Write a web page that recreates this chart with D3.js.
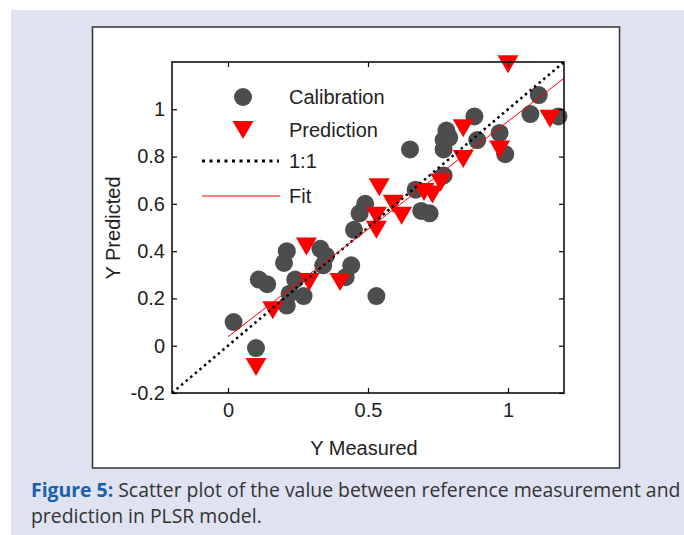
<!DOCTYPE html>
<html>
<head>
<meta charset="utf-8">
<script src="https://cdn.jsdelivr.net/npm/d3@7"></script>
<style>
  body { margin: 0; background: #fff; }
  svg { display: block; }
</style>
</head>
<body>
<script>
"use strict";

// calibration points (Y measured, Y predicted)
const calX = [0.02, 0.10, 0.11, 0.14, 0.20, 0.21, 0.24, 0.22, 0.27, 0.21,
              0.33, 0.35, 0.34, 0.44, 0.42, 0.45, 0.49, 0.47, 0.53, 0.65,
              0.67, 0.69, 0.72, 0.77, 0.77, 0.77, 0.78, 0.79, 0.88, 0.89,
              0.97, 0.99, 1.08, 1.11, 1.18]
const calY = [0.10, -0.01, 0.28, 0.26, 0.35, 0.40, 0.28, 0.22, 0.21, 0.17,
              0.41, 0.38, 0.34, 0.34, 0.29, 0.49, 0.60, 0.56, 0.21, 0.83,
              0.66, 0.57, 0.56, 0.72, 0.83, 0.87, 0.91, 0.88, 0.97, 0.87,
              0.90, 0.81, 0.98, 1.06, 0.97]

// prediction points
const predX = [0.10, 0.16, 0.28, 0.29, 0.40, 0.54, 0.53, 0.53, 0.59, 0.62,
               0.70, 0.73, 0.76, 0.84, 0.84, 0.97, 1.00, 1.15]
const predY = [-0.09, 0.15, 0.42, 0.27, 0.27, 0.67, 0.55, 0.49, 0.60, 0.55,
               0.65, 0.64, 0.69, 0.92, 0.79, 0.83, 1.19, 0.96]

// 1:1 line and fitted line
const oneX = [-0.2, 1.2]
const oneY = [-0.2, 1.2]
const fitX = [0, 1.2]
const fitY = [0.038, 1.131]

const xTicks = [0, 0.5, 1]
const xTickLabels = ["0", "0.5", "1"]
const yTicks = [-0.2, 0, 0.2, 0.4, 0.6, 0.8, 1]
const yTickLabels = ["-0.2", "0", "0.2", "0.4", "0.6", "0.8", "1"]

const legendLabels = ["Calibration", "Prediction", "1:1", "Fit"]

const W = 684, H = 535
const plot = { left: 172, right: 564, top: 62, bottom: 393 }
const font = "'Liberation Sans', Arial, sans-serif"

const svg = d3.select("body").append("svg")
    .attr("width", W)
    .attr("height", H)

// page background and figure box
svg.append("rect")
    .attr("x", 11).attr("y", 10)
    .attr("width", W - 11).attr("height", H - 10)
    .attr("fill", "#dfe2f1")

svg.append("rect")
    .attr("x", 92.5).attr("y", 27)
    .attr("width", 527).attr("height", 441)
    .attr("fill", "#fff")
    .attr("stroke", "#333")
    .attr("stroke-width", 1.5)

const x = d3.scaleLinear().domain([-0.2, 1.2]).range([plot.left, plot.right])
const y = d3.scaleLinear().domain([-0.2, 1.2]).range([plot.bottom, plot.top])

// points
svg.append("g").selectAll("circle")
    .data(d3.zip(calX, calY))
    .join("circle")
    .attr("cx", d => x(d[0]))
    .attr("cy", d => y(d[1]))
    .attr("r", 9)
    .attr("fill", "#4d4d4d")

function triPath(w, h) {
    // downward triangle, bbox centred on the point
    return `M${-w / 2},${-h / 2}L${w / 2},${-h / 2}L0,${h / 2}Z`
}

svg.append("g").selectAll("path")
    .data(d3.zip(predX, predY))
    .join("path")
    .attr("transform", d => `translate(${x(d[0])},${y(d[1])})`)
    .attr("d", triPath(21, 18))
    .attr("fill", "#ff0000")

const line = d3.line().x(d => x(d[0])).y(d => y(d[1]))

svg.append("path")
    .datum(d3.zip(oneX, oneY))
    .attr("d", line)
    .attr("fill", "none")
    .attr("stroke", "#000")
    .attr("stroke-width", 2.5)
    .attr("stroke-dasharray", "2.5 3.5")

svg.append("path")
    .datum(d3.zip(fitX, fitY))
    .attr("d", line)
    .attr("fill", "none")
    .attr("stroke", "#ff0000")
    .attr("stroke-width", 1)

// axes, ticks pointing inwards on all four sides
function styleAxis(g) {
    g.select(".domain").remove()
    g.selectAll("line").attr("stroke", "#000").attr("stroke-width", 1.2)
    g.selectAll("text")
        .attr("font-family", font)
        .attr("font-size", 20)
        .attr("fill", "#222")
}

svg.append("g")
    .attr("transform", `translate(0,${plot.bottom})`)
    .call(d3.axisBottom(x).tickValues(xTicks).tickSizeInner(-5).tickSizeOuter(0)
        .tickPadding(10).tickFormat((d, i) => xTickLabels[i]))
    .call(styleAxis)

svg.append("g")
    .attr("transform", `translate(0,${plot.top})`)
    .call(d3.axisTop(x).tickValues(xTicks).tickSizeInner(-5).tickSizeOuter(0).tickFormat(""))
    .call(styleAxis)

svg.append("g")
    .attr("transform", `translate(${plot.left},0)`)
    .call(d3.axisLeft(y).tickValues(yTicks).tickSizeInner(-5).tickSizeOuter(0)
        .tickPadding(7).tickFormat((d, i) => yTickLabels[i]))
    .call(styleAxis)

svg.append("g")
    .attr("transform", `translate(${plot.right},0)`)
    .call(d3.axisRight(y).tickValues(yTicks).tickSizeInner(-5).tickSizeOuter(0).tickFormat(""))
    .call(styleAxis)

// plot frame
svg.append("rect")
    .attr("x", plot.left).attr("y", plot.top)
    .attr("width", plot.right - plot.left)
    .attr("height", plot.bottom - plot.top)
    .attr("fill", "none")
    .attr("stroke", "#000")
    .attr("stroke-width", 1.5)

// axis titles
svg.append("text")
    .attr("x", 364).attr("y", 455)
    .attr("text-anchor", "middle")
    .attr("font-family", font).attr("font-size", 20).attr("fill", "#222")
    .text("Y Measured")

svg.append("text")
    .attr("transform", "translate(120,228)rotate(-90)")
    .attr("text-anchor", "middle")
    .attr("font-family", font).attr("font-size", 20).attr("fill", "#222")
    .text("Y Predicted")

// legend
const legRows = [97, 130, 161, 196]
const leg = svg.append("g")

leg.append("circle")
    .attr("cx", 243).attr("cy", legRows[0]).attr("r", 9)
    .attr("fill", "#4d4d4d")

leg.append("path")
    .attr("transform", `translate(243,${legRows[1]})`)
    .attr("d", triPath(21, 18))
    .attr("fill", "#ff0000")

leg.append("line")
    .attr("x1", 202).attr("x2", 279)
    .attr("y1", legRows[2]).attr("y2", legRows[2])
    .attr("stroke", "#000")
    .attr("stroke-width", 3)
    .attr("stroke-dasharray", "3 4.5")

leg.append("line")
    .attr("x1", 202).attr("x2", 280)
    .attr("y1", legRows[3]).attr("y2", legRows[3])
    .attr("stroke", "#ff0000")
    .attr("stroke-width", 1)

leg.selectAll("text")
    .data(legendLabels)
    .join("text")
    .attr("x", 289)
    .attr("y", (d, i) => legRows[i] + 7)
    .attr("font-family", font).attr("font-size", 20).attr("fill", "#222")
    .text(d => d)

// caption
const cap = svg.append("text")
    .attr("font-family", "'Open Sans', sans-serif")
    .attr("font-size", 19.4)
    .attr("fill", "#333")

cap.append("tspan")
    .attr("x", 31).attr("y", 497)
    .attr("font-weight", "bold")
    .attr("fill", "#1d5fa8")
    .text("Figure 5:")
cap.append("tspan")
    .text(" Scatter plot of the value between reference measurement and")
cap.append("tspan")
    .attr("x", 31).attr("y", 523)
    .text("prediction in PLSR model.")
</script>
</body>
</html>
